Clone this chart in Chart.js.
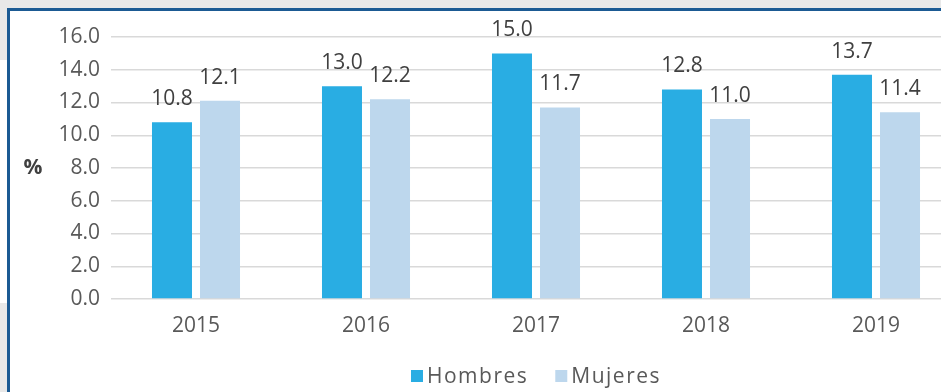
<!DOCTYPE html>
<html>
<head>
<meta charset="utf-8">
<script src="https://cdn.jsdelivr.net/npm/chart.js@4.4.1/dist/chart.umd.min.js"></script>
<style>
  html, body { margin: 0; padding: 0; }
  body { width: 941px; height: 392px; overflow: hidden; position: relative; background: #e8e8e8; font-family: "Open Sans", sans-serif; }
  #panel { position: absolute; left: 7px; top: 8px; width: 1000px; height: 400px; background: #ffffff;
           border-left: 3px solid #1b5a93; border-top: 3px solid #1b5a93; }
  #strip { position: absolute; left: 0; top: 60px; width: 7px; height: 243px; background: #ffffff; }
  #wrap { position: absolute; left: 0; top: 0; width: 970px; height: 392px; }
</style>
</head>
<body>
<div id="panel"></div>
<div id="strip"></div>
<div id="wrap"><canvas id="c" width="970" height="392"></canvas></div>
<script>
// Tasa por sexo, 2015-2019 (%)
const years = ["2015", "2016", "2017", "2018", "2019"];
const hombres = [10.8, 13.0, 15.0, 12.8, 13.7];
const mujeres = [12.1, 12.2, 11.7, 11.0, 11.4];
const yTicks = [0, 2, 4, 6, 8, 10, 12, 14, 16];

const FONT = "Open Sans";
const SIZE = 21;
const TICK_COLOR = "#595959";
const LABEL_COLOR = "#404040";

// value labels above each bar + the "%" axis caption
const barValues = {
  id: "barValues",
  afterDatasetsDraw(chart) {
    const ctx = chart.ctx;
    ctx.save();
    ctx.font = `400 ${SIZE}px "${FONT}"`;
    ctx.fillStyle = LABEL_COLOR;
    ctx.textAlign = "center";
    ctx.textBaseline = "alphabetic";
    chart.data.datasets.forEach((ds, i) => {
      const meta = chart.getDatasetMeta(i);
      meta.data.forEach((bar, j) => {
        ctx.fillText(ds.data[j].toFixed(1), bar.x, bar.y - 17);
      });
    });
    const ca = chart.chartArea;
    ctx.font = `700 ${SIZE}px "${FONT}"`;
    ctx.textBaseline = "middle";
    ctx.fillText("%", 33, (ca.top + ca.bottom) / 2);
    ctx.restore();
  }
};

// series key centred under the plot area
const seriesKey = {
  id: "seriesKey",
  afterDraw(chart) {
    const ctx = chart.ctx;
    const ca = chart.chartArea;
    const box = 12, gapText = 4, gapItem = 27;
    const baseline = 383;
    ctx.save();
    ctx.font = `400 ${SIZE}px "${FONT}"`;
    ctx.letterSpacing = "1.5px";
    ctx.textBaseline = "alphabetic";
    ctx.textAlign = "left";
    const items = chart.data.datasets.map(ds => ({
      text: ds.label, color: ds.backgroundColor, w: ctx.measureText(ds.label).width
    }));
    const total = items.reduce((s, it) => s + box + gapText + it.w, 0) + gapItem * (items.length - 1);
    let x = (ca.left + ca.right) / 2 - total / 2;
    items.forEach(it => {
      ctx.fillStyle = it.color;
      ctx.fillRect(x, baseline - 13, box, box);
      x += box + gapText;
      ctx.fillStyle = TICK_COLOR;
      ctx.fillText(it.text, x, baseline);
      x += it.w + gapItem;
    });
    ctx.restore();
  }
};

new Chart(document.getElementById("c"), {
  type: "bar",
  data: {
    labels: years,
    datasets: [
      { label: "Hombres", data: hombres, backgroundColor: "#29ade3" },
      { label: "Mujeres", data: mujeres, backgroundColor: "#bdd7ed" }
    ]
  },
  options: {
    responsive: false,
    animation: false,
    devicePixelRatio: 1,
    categoryPercentage: 0.565,
    barPercentage: 0.833,
    layout: { padding: { top: 37, right: 9, left: 0, bottom: 46 } },
    plugins: {
      tooltip: { enabled: false },
      legend: { display: false }
    },
    scales: {
      x: {
        afterFit(scale) { scale.height = 47; },
        grid: { display: false, drawTicks: false },
        border: { display: false },
        ticks: { font: { family: FONT, size: SIZE }, color: TICK_COLOR, padding: 14 }
      },
      y: {
        min: 0,
        max: 16,
        afterFit(scale) { scale.width = 111; },
        afterBuildTicks(scale) { scale.ticks = yTicks.map(v => ({ value: v })); },
        grid: { color: "#d9d9d9", lineWidth: 1.5, drawTicks: false },
        border: { display: false },
        ticks: {
          font: { family: FONT, size: SIZE },
          color: TICK_COLOR,
          padding: 11,
          callback: v => Number(v).toFixed(1)
        }
      }
    }
  },
  plugins: [barValues, seriesKey]
});
</script>
</body>
</html>
